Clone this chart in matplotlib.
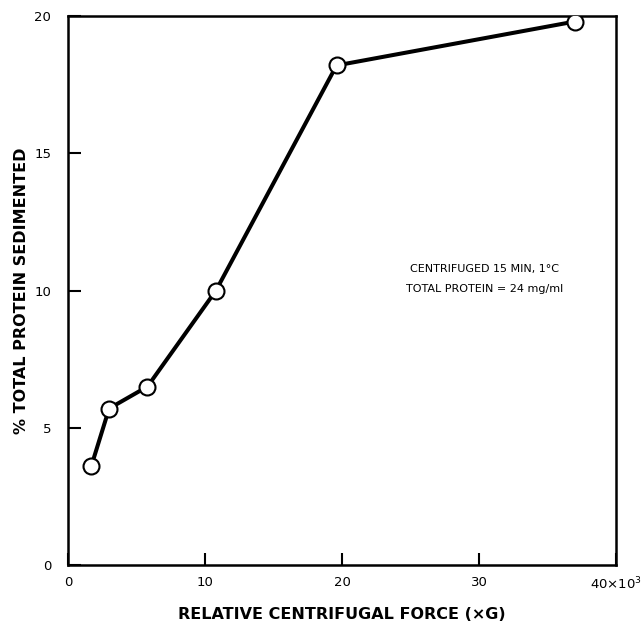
import numpy as np
import matplotlib.pyplot as plt

# relative centrifugal force (x1000 G) vs % total protein sedimented
force = [1.7, 3.0, 5.8, 10.8, 19.6, 37.0]
sedimented = [3.6, 5.7, 6.5, 10.0, 18.2, 19.8]

x_ticks = [0, 10, 20, 30, 40]
x_tick_labels = ["0", "10", "20", "30", "40×10$^3$"]
y_ticks = [0, 5, 10, 15, 20]

plt.rcParams["font.family"] = "DejaVu Sans"

fig = plt.figure(figsize=(6.44, 6.21), dpi=100)
ax = fig.add_axes([0.1056, 0.0902, 0.851, 0.884])

ax.plot(force, sedimented, color="black", linewidth=2.9,
        marker="o", markersize=11.5, markerfacecolor="white",
        markeredgecolor="black", markeredgewidth=1.5, zorder=3)

ax.set_xlim(0, 40)
ax.set_ylim(0, 20)
ax.set_xticks(x_ticks)
ax.set_xticklabels(x_tick_labels)
ax.set_yticks(y_ticks)

ax.tick_params(direction="in", length=9, width=1.5, labelsize=9.5, pad=8)
ax.tick_params(axis="y", pad=12)
for s in ax.spines.values():
    s.set_linewidth(1.8)

ax.set_xlabel("RELATIVE CENTRIFUGAL FORCE (×G)", fontsize=11.5,
              fontweight="bold", labelpad=10)
ax.set_ylabel("% TOTAL PROTEIN SEDIMENTED", fontsize=11.5,
              fontweight="bold", labelpad=4)

ax.text(30.4, 10.8, "CENTRIFUGED 15 MIN, 1°C", fontsize=8,
        ha="center", va="center")
ax.text(30.4, 10.05, "TOTAL PROTEIN = 24 mg/ml", fontsize=8,
        ha="center", va="center")

fig.savefig("out.png", dpi=100)
